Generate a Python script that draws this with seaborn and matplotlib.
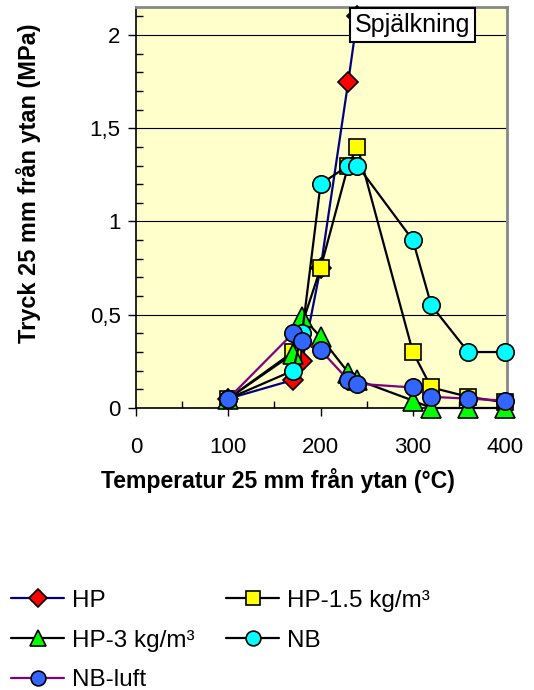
import matplotlib
matplotlib.use("Agg")
import matplotlib.pyplot as plt
from matplotlib.ticker import MultipleLocator, FuncFormatter
from matplotlib.lines import Line2D
import seaborn as sns
import pandas as pd

sns.set_theme(style="white")
plt.rcParams["font.family"] = ["Liberation Sans", "DejaVu Sans"]
plt.rcParams.update({"text.color": "black", "axes.labelcolor": "black",
                     "xtick.color": "black", "ytick.color": "black"})

# Temperature 25 mm from the surface (°C)
temp_hp = [100, 170, 180, 200, 230, 240]
temp_all = [100, 170, 180, 200, 230, 240, 300, 320, 360, 400]
temp_hp15 = [100, 170, 200, 230, 240, 300, 320, 360, 400]

# Pressure 25 mm from the surface (MPa)
p_hp = [0.05, 0.15, 0.25, 0.75, 1.75, 2.1]
p_hp15 = [0.05, 0.30, 0.75, 1.30, 1.40, 0.30, 0.11, 0.06, 0.03]
p_hp3 = [0.05, 0.29, 0.49, 0.38, 0.19, 0.15, 0.04, 0.0, 0.0, 0.0]
p_nb = [0.05, 0.20, 0.40, 1.20, 1.30, 1.30, 0.90, 0.55, 0.30, 0.30]
p_nbluft = [0.05, 0.40, 0.36, 0.31, 0.15, 0.13, 0.11, 0.06, 0.05, 0.04]

series = [
    # label, x, y, line colour, marker, face colour, marker size
    ("HP", temp_hp, p_hp, "#000080", "D", "#FF0000", 10.5),
    ("HP-1.5 kg/m³", temp_hp15, p_hp15, "#000000", "s", "#FFFF00", 11.5),
    ("HP-3 kg/m³", temp_all, p_hp3, "#000000", "^", "#00FF00", 14),
    ("NB", temp_all, p_nb, "#000000", "o", "#00FFFF", 12.5),
    ("NB-luft", temp_all, p_nbluft, "#800080", "o", "#3366FF", 12.5),
]

fig = plt.figure(figsize=(5.34, 6.9), dpi=100)
ax = fig.add_axes([0.2547, 0.4087, 0.6947, 0.5812])
ax.set_facecolor("#FFFFCC")

handles = {}
for label, xs, ys, lc, mk, fc, ms in series:
    df = pd.DataFrame({"t": xs, "p": ys})
    sns.lineplot(data=df, x="t", y="p", ax=ax, color=lc, linewidth=1.6,
                 marker=mk, markersize=ms, markerfacecolor=fc,
                 markeredgecolor="black", markeredgewidth=1.2,
                 errorbar=None, sort=False, clip_on=False, zorder=3)
    handles[label] = Line2D([], [], color=lc, linewidth=1.6, marker=mk,
                            markersize=ms * 0.85, markerfacecolor=fc,
                            markeredgecolor="black", markeredgewidth=1.2)

ax.set_xlim(0, 402)
ax.set_ylim(0, 2.15)
ax.xaxis.set_major_locator(MultipleLocator(100))
ax.xaxis.set_minor_locator(MultipleLocator(50))
ax.yaxis.set_major_locator(MultipleLocator(0.5))
ax.yaxis.set_minor_locator(MultipleLocator(0.1))
ax.yaxis.set_major_formatter(FuncFormatter(lambda v, _: f"{v:g}".replace(".", ",")))

ax.grid(axis="y", which="major", color="black", linewidth=0.8)
ax.grid(axis="x", visible=False)
ax.set_axisbelow(True)

ax.tick_params(which="major", direction="out", length=6, width=1, color="black",
               labelsize=16, left=True, bottom=True)
ax.tick_params(axis="x", which="major", pad=15)
ax.tick_params(axis="y", which="major", pad=5)
ax.tick_params(which="minor", direction="in", length=5, width=1, color="black",
               left=True, bottom=True)

for side in ("left", "bottom"):
    ax.spines[side].set_color("black")
    ax.spines[side].set_linewidth(1.2)
for side in ("top", "right"):
    ax.spines[side].set_color("#888888")
    ax.spines[side].set_linewidth(2)

ax.set_xlabel("Temperatur 25 mm från ytan (°C)", fontsize=16.6, fontweight="bold")
ax.xaxis.set_label_coords(0.383, -0.15)
ax.set_ylabel("Tryck 25 mm från ytan (MPa)", fontsize=16.9, fontweight="bold")
ax.yaxis.set_label_coords(-0.256, 0.561)

ax.text(0.59, 0.986, "Spjälkning", transform=ax.transAxes, fontsize=18,
        ha="left", va="top", zorder=10,
        bbox=dict(boxstyle="square,pad=0.2", facecolor="white",
                  edgecolor="black", linewidth=1.5))

order = ["HP", "HP-3 kg/m³", "NB-luft", "HP-1.5 kg/m³", "NB"]
fig.legend([handles[k] for k in order], order, ncol=2, frameon=False,
           loc="upper left", bbox_to_anchor=(0.0206, 0.145), fontsize=17.5,
           handlelength=2.2, handletextpad=0.3, columnspacing=1.3,
           labelspacing=0.73, borderpad=0, borderaxespad=0)

fig.savefig("out.png", dpi=100, facecolor="white")
